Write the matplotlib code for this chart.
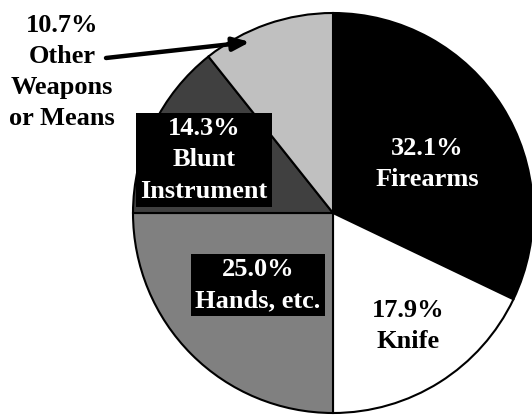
import matplotlib.pyplot as plt

# weapon share of homicides, clockwise from the top
labels = ['Firearms', 'Knife', 'Hands, etc.', 'Blunt\nInstrument', 'Other\nWeapons\nor Means']
shares = [32.1, 17.9, 25.0, 14.3, 10.7]
colors = ['#000000', '#ffffff', '#808080', '#404040', '#c0c0c0']

W, H = 532, 416
fig = plt.figure(figsize=(W / 100, H / 100), dpi=100)
ax = fig.add_axes([0, 0, 1, 1])

cx, cy, r = 333, H - 213, 200
ax.pie(shares, colors=colors, startangle=90, counterclock=False,
       center=(cx, cy), radius=r, frame=True,
       wedgeprops=dict(edgecolor='black', linewidth=1.5))
ax.set_xlim(0, W)
ax.set_ylim(0, H)
ax.set_aspect('equal')
ax.axis('off')

font = dict(family='Liberation Serif', fontweight='bold', fontsize=19,
            ha='center', va='center', linespacing=1.45)

def lab(i):
    return f'{shares[i]:.1f}%\n{labels[i]}'

ax.text(427, H - 164, lab(0), color='white', **font)
ax.text(408, H - 326, lab(1), color='black', **font)
ax.text(258, H - 285, lab(2), color='white',
        bbox=dict(boxstyle='square,pad=0.15', fc='black', ec='none'), **font)
ax.text(204, H - 160, lab(3), color='white',
        bbox=dict(boxstyle='square,pad=0.15', fc='black', ec='none'), **font)
ax.text(62, H - 72, lab(4), color='black', **font)

ax.annotate('', xy=(250, H - 42), xytext=(106, H - 58),
            arrowprops=dict(arrowstyle='-|>,head_length=1.0,head_width=0.4',
                            lw=3.2, color='black', shrinkA=0, shrinkB=0))

fig.savefig('out.png', dpi=100)
